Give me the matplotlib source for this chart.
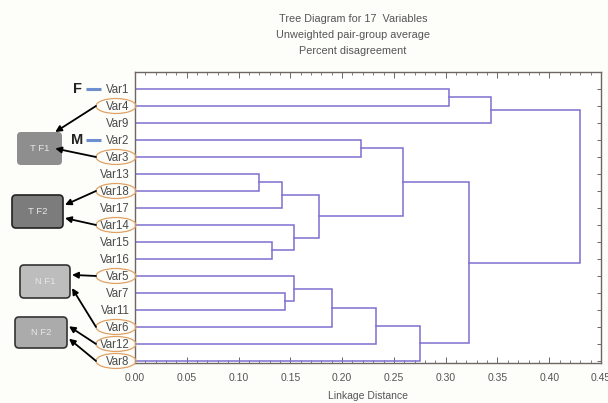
import matplotlib
matplotlib.use("Agg")
import matplotlib.pyplot as plt
from matplotlib.patches import Ellipse, FancyBboxPatch
from matplotlib.ticker import MultipleLocator

# leaves, top to bottom, as ordered by the clustering
leaves = ["Var1", "Var4", "Var9", "Var2", "Var3", "Var13", "Var18", "Var17",
          "Var14", "Var15", "Var16", "Var5", "Var7", "Var11", "Var6", "Var12", "Var8"]

# UPGMA merges: cluster ids 0..16 are leaves, each merge makes a new id 17, 18, ...
merge_left = [5, 9, 17, 12, 8, 11, 19, 22, 3, 24, 25, 26, 0, 27, 29, 31]
merge_right = [6, 10, 7, 13, 18, 20, 21, 14, 4, 15, 23, 16, 1, 28, 2, 30]
merge_height = [0.120, 0.132, 0.142, 0.145, 0.154, 0.154, 0.178, 0.190,
                0.218, 0.233, 0.259, 0.275, 0.303, 0.323, 0.344, 0.430]

x_ticks = [0.00, 0.05, 0.10, 0.15, 0.20, 0.25, 0.30, 0.35, 0.40, 0.45]

# labels circled and grouped into boxes on the left
groups = {
    "T F1": ["Var4", "Var3"],
    "T F2": ["Var18", "Var14"],
    "N F1": ["Var5", "Var6"],
    "N F2": ["Var12", "Var8"],
}
sex_marks = {"F": "Var1", "M": "Var2"}

plt.rcParams["font.family"] = ["Liberation Sans", "DejaVu Sans"]

W, H = 608, 403
fig = plt.figure(figsize=(W / 100, H / 100), dpi=100, facecolor="#fdfdfa")
ax = fig.add_axes([135 / W, 1 - 363 / H, 466 / W, 291 / H])
line_col = "#7d6fd0"
axis_col = "#6e6662"
text_col = "#4a4a4a"

# walk the linkage, keeping each cluster's y position and height
pos = {i: float(i) for i in range(len(leaves))}
hgt = {i: 0.0 for i in range(len(leaves))}
for k, (a, b, h) in enumerate(zip(merge_left, merge_right, merge_height)):
    ya, yb = pos[a], pos[b]
    ax.plot([hgt[a], h, h, hgt[b]], [ya, ya, yb, yb], color=line_col, lw=1.1,
            solid_joinstyle="miter")
    new = len(leaves) + k
    pos[new] = (ya + yb) / 2
    hgt[new] = h

ax.set_xlim(0, 0.45)
ax.set_ylim(len(leaves) - 0.88, -1.0)
ax.set_xticks(x_ticks)
ax.set_xticklabels([f"{t:.2f}" for t in x_ticks])
ax.xaxis.set_minor_locator(MultipleLocator(0.01))
ax.set_yticks(range(len(leaves)))
ax.set_yticklabels(leaves)
ax.tick_params(axis="x", which="both", direction="in", top=True, colors=axis_col,
               labelcolor="#555555", labelsize=7.5, pad=7)
ax.tick_params(axis="x", which="major", length=4, width=0.7)
ax.tick_params(axis="x", which="minor", length=2, width=0.6)
ax.tick_params(axis="y", direction="in", left=False, right=True, length=3,
               width=0.7, colors=axis_col, labelcolor=text_col, labelsize=8.3, pad=4)
for s in ax.spines.values():
    s.set_color(axis_col)
    s.set_linewidth(1.0)
ax.set_xlabel("Linkage Distance", fontsize=7.5, color="#555555", labelpad=6)

fig.text(353 / W, 1 - 19 / H, "Tree Diagram for 17  Variables", ha="center",
         va="center", fontsize=7.8, color="#555555")
fig.text(353 / W, 1 - 35 / H, "Unweighted pair-group average", ha="center",
         va="center", fontsize=7.8, color="#555555")
fig.text(353 / W, 1 - 51 / H, "Percent disagreement", ha="center",
         va="center", fontsize=7.8, color="#555555")

# overlay in pixel units (y measured from the top) for the annotations
ov = fig.add_axes([0, 0, 1, 1], facecolor="none")
ov.set_xlim(0, W)
ov.set_ylim(H, 0)
ov.axis("off")


def row_px(name):
    _, yd = ax.transData.transform((0, leaves.index(name)))
    return H - yd


box_geom = {
    "T F1": (17, 132, 45, 33, "#8e8e8e", "none"),
    "T F2": (12, 195, 51, 33, "#7c7c7c", "#222222"),
    "N F1": (20, 265, 50, 33, "#bdbdbd", "#333333"),
    "N F2": (15, 317, 52, 31, "#ababab", "#333333"),
}
for label, names in groups.items():
    x0, y0, w, h, fc, ec = box_geom[label]
    ov.add_patch(FancyBboxPatch((x0, y0), w, h, boxstyle="round,pad=0,rounding_size=4",
                                fc=fc, ec=ec, lw=1.2))
    ov.text(x0 + w / 2, y0 + h / 2, label, ha="center", va="center",
            fontsize=6.8, color="#e6e6e6")
    targets = [y0 + h * 0.3, y0 + h * 0.7]
    if label == "T F1":
        targets = [y0, y0 + h * 0.5]
    for name, ty in zip(names, targets):
        y = row_px(name)
        ov.add_patch(Ellipse((116, y), 40, 15, fc="none", ec="#e0a264", lw=0.9))
        tx = x0 + w + 2 if label != "T F1" else x0 + w * 0.85
        ov.annotate("", xy=(tx, ty), xytext=(96, y),
                    arrowprops=dict(arrowstyle="-|>", color="black", lw=1.3,
                                    mutation_scale=9, shrinkA=0, shrinkB=0))

for letter, name in sex_marks.items():
    y = row_px(name)
    ov.text(77, y, letter, ha="center", va="center", fontsize=10.5,
            fontweight="bold", color="#222222")
    ov.plot([86, 101], [y, y], color="#6d8fd0", lw=2.2, solid_capstyle="butt")

fig.savefig("out.png", dpi=100, facecolor=fig.get_facecolor())
